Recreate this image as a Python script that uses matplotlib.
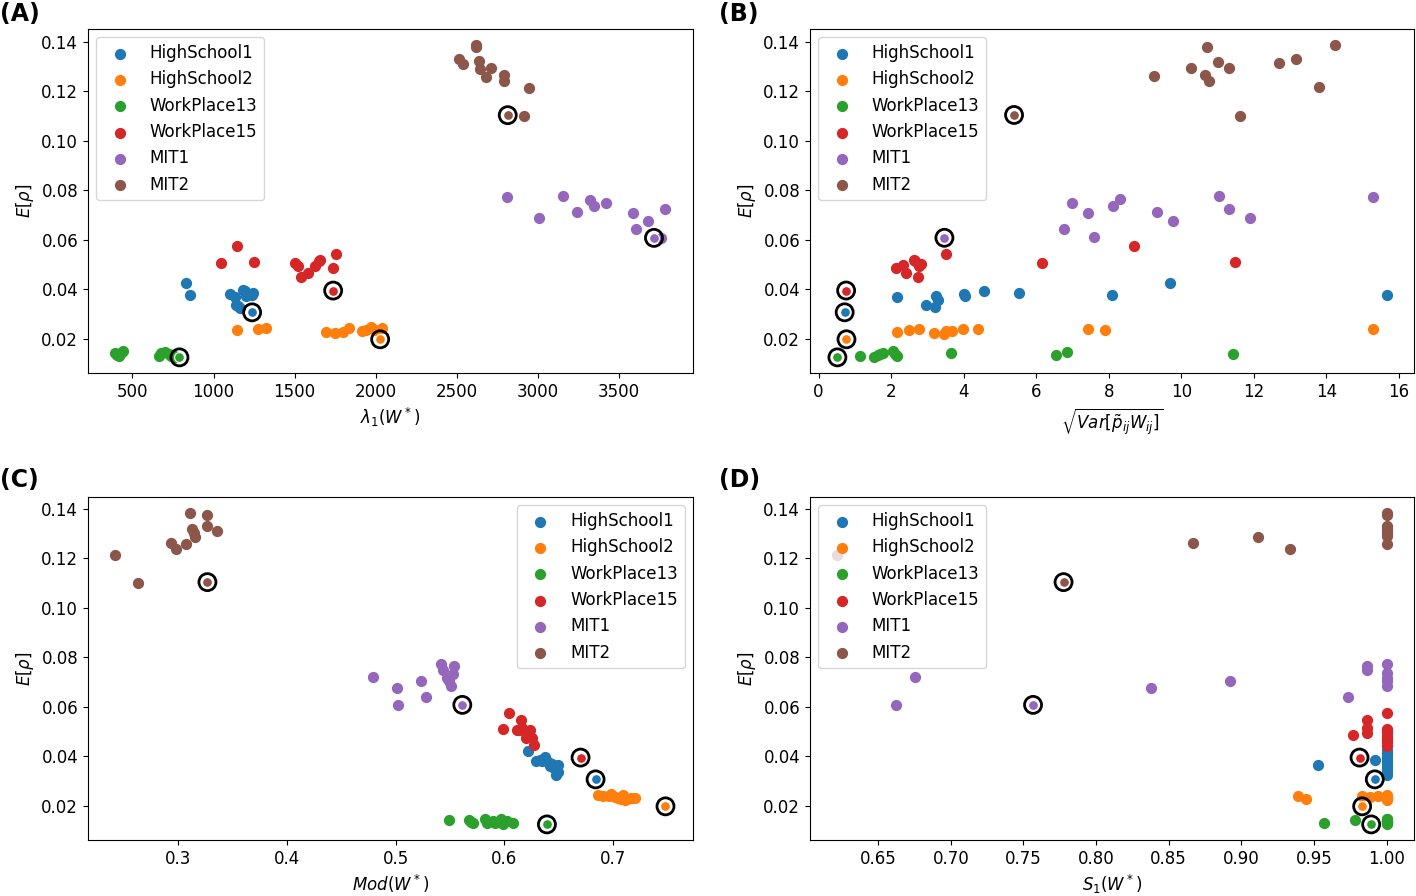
import numpy as np
import matplotlib
matplotlib.use("Agg")
import matplotlib.pyplot as plt

plt.rcParams['font.size'] = 12

names = ["HighSchool1", "HighSchool2", "WorkPlace13", "WorkPlace15", "MIT1", "MIT2"]
colors = ["#1f77b4", "#ff7f0e", "#2ca02c", "#d62728", "#9467bd", "#8c564b"]

# (A) lambda_1(W*) vs E[rho]
a_hs1 = [(829, 0.0425), (853, 0.0379), (1102, 0.0382), (1131, 0.0371), (1151, 0.0334), (1180, 0.0398),
         (1200, 0.0374), (1243, 0.0385), (1139, 0.0338), (1163, 0.0324), (1195, 0.0392), (1240, 0.0376)]
a_hs2 = [(1146, 0.0236), (1277, 0.0239), (1321, 0.0242), (1692, 0.0228), (1748, 0.0223), (1797, 0.0226),
         (1838, 0.0243), (1918, 0.0230), (1943, 0.0236), (1972, 0.0247), (2040, 0.0242), (1999, 0.0234)]
a_wp13 = [(395, 0.0142), (407, 0.0135), (420, 0.0131), (432, 0.0142), (444, 0.0149), (663, 0.0131),
          (675, 0.0142), (700, 0.0146), (724, 0.0139), (736, 0.0129), (749, 0.0135), (761, 0.0126)]
a_wp15 = [(1046, 0.0506), (1146, 0.0576), (1248, 0.0511), (1504, 0.0506), (1521, 0.0493), (1541, 0.0449),
          (1585, 0.0468), (1626, 0.0495), (1650, 0.0513), (1655, 0.0520), (1738, 0.0487), (1755, 0.0544)]
a_mit1 = [(2813, 0.0773), (3010, 0.0687), (3154, 0.0776), (3242, 0.0714), (3320, 0.0762), (3349, 0.0738),
          (3420, 0.0749), (3588, 0.0707), (3607, 0.0644), (3681, 0.0677), (3788, 0.0723), (3759, 0.0609)]
a_mit2 = [(2516, 0.1333), (2540, 0.1312), (2618, 0.1389), (2620, 0.1378), (2637, 0.1322), (2642, 0.1292),
          (2681, 0.1260), (2711, 0.1295), (2793, 0.1267), (2793, 0.1241), (2944, 0.1215), (2915, 0.1099)]

# (B) sqrt(Var[p W]) vs E[rho]
b_hs1 = [(2.16, 0.0367), (2.96, 0.0335), (3.21, 0.0327), (3.24, 0.0374), (3.29, 0.0358), (4.02, 0.0381),
         (4.04, 0.0371), (4.56, 0.0394), (5.54, 0.0385), (8.10, 0.0378), (9.70, 0.0424), (15.66, 0.0377)]
b_hs2 = [(2.17, 0.0227), (2.49, 0.0234), (2.78, 0.0238), (3.17, 0.0224), (3.45, 0.0220), (3.52, 0.0230),
         (3.68, 0.0230), (3.97, 0.0241), (4.40, 0.0239), (7.42, 0.0239), (7.90, 0.0236), (15.28, 0.0241)]
b_wp13 = [(1.15, 0.0131), (1.54, 0.0126), (1.64, 0.0135), (1.70, 0.0138), (1.77, 0.0142), (2.05, 0.0149),
          (2.11, 0.0140), (2.16, 0.0131), (3.66, 0.0141), (6.56, 0.0133), (6.86, 0.0146), (11.43, 0.0138)]
b_wp15 = [(2.13, 0.0487), (2.32, 0.0499), (2.42, 0.0467), (2.62, 0.0520), (2.67, 0.0513), (2.75, 0.0448),
          (2.78, 0.0493), (2.83, 0.0503), (3.52, 0.0544), (6.17, 0.0506), (8.70, 0.0576), (11.49, 0.0511)]
b_mit1 = [(6.76, 0.0642), (6.99, 0.0749), (7.42, 0.0707), (7.60, 0.0610), (8.13, 0.0738), (8.32, 0.0764),
          (9.32, 0.0714), (9.77, 0.0677), (11.05, 0.0776), (11.31, 0.0725), (11.89, 0.0687), (15.29, 0.0773)]
b_mit2 = [(9.25, 0.1260), (10.28, 0.1293), (10.65, 0.1267), (10.71, 0.1378), (10.77, 0.1241), (11.02, 0.1319),
          (11.31, 0.1292), (11.63, 0.1099), (12.69, 0.1312), (13.15, 0.1331), (13.79, 0.1215), (14.24, 0.1388)]

# (C) Mod(W*) vs E[rho]
c_hs1 = [(0.6220, 0.0423), (0.6292, 0.0380), (0.6328, 0.0387), (0.6376, 0.0396), (0.6401, 0.0376), (0.6437, 0.0371),
         (0.6456, 0.0353), (0.6492, 0.0367), (0.6474, 0.0326), (0.6492, 0.0336), (0.6347, 0.0380), (0.6419, 0.0360)]
c_hs2 = [(0.6855, 0.0242), (0.6909, 0.0239), (0.6982, 0.0246), (0.7018, 0.0236), (0.7043, 0.0232), (0.7091, 0.0242),
         (0.7109, 0.0222), (0.7127, 0.0228), (0.7196, 0.0232), (0.6964, 0.0239), (0.7072, 0.0228), (0.7163, 0.0232)]
c_wp13 = [(0.5490, 0.0141), (0.5675, 0.0141), (0.5711, 0.0129), (0.5820, 0.0145), (0.5838, 0.0132), (0.5893, 0.0138),
          (0.5911, 0.0129), (0.5966, 0.0145), (0.5991, 0.0127), (0.6020, 0.0138), (0.6082, 0.0132), (0.5693, 0.0134)]
c_wp15 = [(0.6038, 0.0575), (0.5991, 0.0512), (0.6111, 0.0508), (0.6154, 0.0546), (0.6165, 0.0515), (0.6201, 0.0495),
          (0.6238, 0.0508), (0.6256, 0.0474), (0.6194, 0.0474), (0.6267, 0.0447), (0.6220, 0.0481), (0.6129, 0.0505)]
c_mit1 = [(0.4797, 0.0722), (0.5011, 0.0675), (0.5022, 0.0609), (0.5229, 0.0706), (0.5283, 0.0641), (0.5421, 0.0774),
          (0.5439, 0.0747), (0.5475, 0.0717), (0.5505, 0.0686), (0.5530, 0.0734), (0.5541, 0.0764), (0.5494, 0.0703)]
c_mit2 = [(0.2427, 0.1213), (0.2637, 0.1100), (0.2935, 0.1264), (0.2982, 0.1237), (0.3076, 0.1259), (0.3109, 0.1385),
          (0.3131, 0.1319), (0.3149, 0.1302), (0.3160, 0.1288), (0.3269, 0.1376), (0.3272, 0.1329), (0.3356, 0.1309)]

# (D) S_1(W*) vs E[rho]
d_hs1 = [(0.9525, 0.0365), (0.9919, 0.0384), (1.0, 0.0427), (1.0, 0.0412), (1.0, 0.0398), (1.0, 0.0385),
         (1.0, 0.0372), (1.0, 0.0360), (1.0, 0.0347), (1.0, 0.0335), (1.0, 0.0325), (1.0, 0.0415)]
d_hs2 = [(0.9388, 0.0238), (0.9445, 0.0228), (0.9828, 0.0240), (0.9885, 0.0236), (0.9943, 0.0238), (1.0, 0.0242),
         (1.0, 0.0236), (1.0, 0.0230), (1.0, 0.0223), (1.0, 0.0239), (1.0, 0.0228), (1.0, 0.0233)]
d_wp13 = [(0.9568, 0.0132), (0.9784, 0.0141), (1.0, 0.0146), (1.0, 0.0142), (1.0, 0.0138), (1.0, 0.0135),
          (1.0, 0.0131), (1.0, 0.0129), (1.0, 0.0127), (1.0, 0.0145), (1.0, 0.0133), (1.0, 0.0140)]
d_wp15 = [(0.9770, 0.0485), (0.9862, 0.0546), (0.9862, 0.0515), (0.9862, 0.0495), (1.0, 0.0575), (1.0, 0.0511),
          (1.0, 0.0505), (1.0, 0.0497), (1.0, 0.0484), (1.0, 0.0470), (1.0, 0.0457), (1.0, 0.0443)]
d_mit1 = [(0.6621, 0.0609), (0.6756, 0.0722), (0.8381, 0.0675), (0.8920, 0.0706), (0.9733, 0.0641), (0.9865, 0.0764),
          (0.9865, 0.0750), (1.0, 0.0774), (1.0, 0.0737), (1.0, 0.0717), (1.0, 0.0703), (1.0, 0.0686)]
d_mit2 = [(0.6219, 0.1213), (0.8669, 0.1261), (0.9112, 0.1288), (0.9333, 0.1237), (1.0, 0.1385), (1.0, 0.1376),
          (1.0, 0.1329), (1.0, 0.1319), (1.0, 0.1309), (1.0, 0.1302), (1.0, 0.1292), (1.0, 0.1260)]

# reference (circled) network per dataset, same order as names
ref_rho = [0.0307, 0.0198, 0.0125, 0.0395, 0.0608, 0.1104]
ref_a = [1238, 2028, 790, 1738, 3717, 2815]
ref_b = [0.72, 0.77, 0.52, 0.76, 3.47, 5.39]
ref_c = [0.6837, 0.7479, 0.6390, 0.6699, 0.5613, 0.3272]
ref_d = [0.9919, 0.9832, 0.9894, 0.9814, 0.7566, 0.7776]

panels = [
    ("(A)", [a_hs1, a_hs2, a_wp13, a_wp15, a_mit1, a_mit2], ref_a, r"$\lambda_1(W^*)$",
     [500, 1000, 1500, 2000, 2500, 3000, 3500], "upper left"),
    ("(B)", [b_hs1, b_hs2, b_wp13, b_wp15, b_mit1, b_mit2], ref_b, r"$\sqrt{Var[\tilde{p}_{ij}W_{ij}]}$",
     [0, 2, 4, 6, 8, 10, 12, 14, 16], "upper left"),
    ("(C)", [c_hs1, c_hs2, c_wp13, c_wp15, c_mit1, c_mit2], ref_c, r"$Mod(W^*)$",
     [0.3, 0.4, 0.5, 0.6, 0.7], "upper right"),
    ("(D)", [d_hs1, d_hs2, d_wp13, d_wp15, d_mit1, d_mit2], ref_d, r"$S_1(W^*)$",
     [0.65, 0.70, 0.75, 0.80, 0.85, 0.90, 0.95, 1.00], "upper left"),
]

fig = plt.figure(figsize=(14.16, 8.96), dpi=100)
rects = [[0.0621, 0.5837, 0.4273, 0.3839], [0.572, 0.5837, 0.4266, 0.3839],
         [0.0621, 0.0625, 0.4273, 0.3828], [0.572, 0.0625, 0.4266, 0.3828]]
label_pos = [(0.0, 0.998), (0.508, 0.998), (0.0, 0.478), (0.508, 0.478)]

for (tag, groups, refx, xlabel, xticks, loc), rect, lpos in zip(panels, rects, label_pos):
    ax = fig.add_axes(rect)
    for pts, name, col in zip(groups, names, colors):
        pts = np.array(pts)
        ax.scatter(pts[:, 0], pts[:, 1], s=50, color=col, label=name)
    for x, y, col in zip(refx, ref_rho, colors):
        ax.scatter(x, y, s=50, color=col, edgecolors="white", linewidths=0.8, zorder=3)
        ax.scatter(x, y, s=150, facecolors="none", edgecolors="black", linewidths=2, zorder=4)
    ax.set_xticks(xticks)
    ax.set_xlabel(xlabel)
    ax.set_ylabel(r"$E[\rho]$")
    ax.legend(loc=loc)
    fig.text(lpos[0], lpos[1], tag, fontsize=17, fontweight="bold", va="top", ha="left")

fig.savefig("out.png", dpi=100)
